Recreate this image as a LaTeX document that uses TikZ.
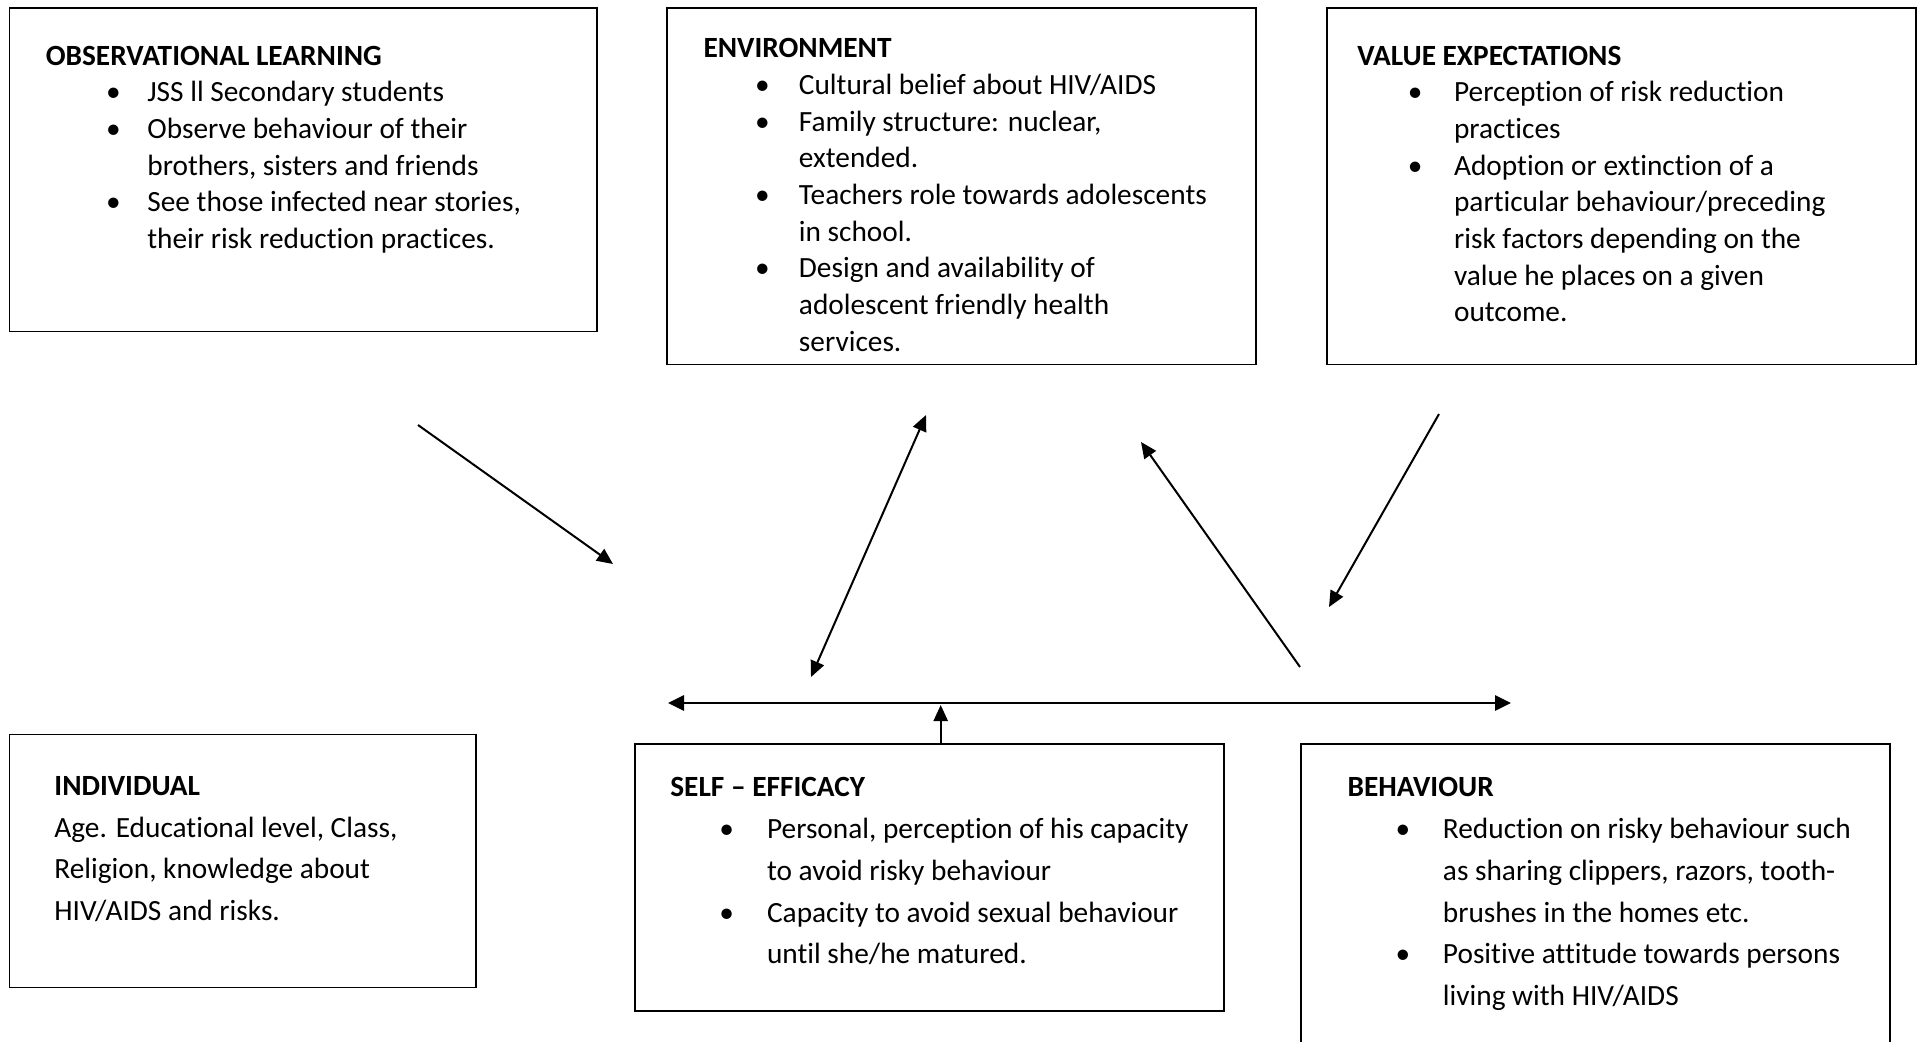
\documentclass[tikz,border=0pt]{standalone}
\usepackage{fontspec}
\setmainfont[Ligatures={NoCommon}]{Carlito}
\usetikzlibrary{arrows.meta,positioning}

\newcommand{\bul}{\textbullet}

\begin{document}
\begin{tikzpicture}
[x=0.375pt,y=-0.375pt,
block/.style ={rectangle, draw, line width=0.6pt, inner sep=0pt,
anchor=north west},
txt/.style ={inner sep=0pt, anchor=north west,
font=\fontsize{11}{13.76}\selectfont},
txtlow/.style ={txt, font=\fontsize{11}{15.7}\selectfont},
line/.style ={draw, line width=0.75pt,
-{Triangle[length=6pt,width=5.3pt]}},
bus/.style ={draw, line width=1.1pt,
{Triangle[length=6pt,width=5.6pt]}-{Triangle[length=6pt,width=5.6pt]}}]

\useasboundingbox (0,0) rectangle (1920,1042);

% top row of boxes
\node [block, minimum width=220.3pt, minimum height=121.2pt] (obs) at (8.6,7.3) {};
\node [block, minimum width=220.9pt, minimum height=133.7pt] (env) at (666.1,7.3) {};
\node [block, minimum width=220.9pt, minimum height=133.7pt] (val) at (1326.1,7.3) {};
% bottom row of boxes
\node [block, minimum width=175pt, minimum height=95pt] (ind) at (8.6,733.5) {};
\node [block, minimum width=220.9pt, minimum height=100.1pt] (self) at (634.3,743.3) {};
\node [block, minimum width=220.9pt, minimum height=122pt] (beh) at (1300.4,743.3) {};

% texts
\node [txt] (obstxt) at (45.3,38.8) {\begin{tabular}{@{\hspace{22.6pt}}l@{\hspace{10pt}}l@{}}
\multicolumn{2}{@{}l@{}}{\textbf{OBSERVATIONAL LEARNING}}\\
\bul & JSS ll Secondary students\\
\bul & Observe behaviour of their\\
 & brothers, sisters and friends\\
\bul & See those infected near stories,\\
 & their risk reduction practices.
\end{tabular}};
\node [txt] (envtxt) at (703,31.5) {\begin{tabular}{@{\hspace{19.3pt}}l@{\hspace{11pt}}l@{}}
\multicolumn{2}{@{}l@{}}{\textbf{ENVIRONMENT}}\\
\bul & Cultural belief about HIV/AIDS\\
\bul & Family structure: nuclear,\\
 & extended.\\
\bul & Teachers role towards adolescents\\
 & in school.\\
\bul & Design and availability of\\
 & adolescent friendly health\\
 & services.
\end{tabular}};
\node [txt] (valtxt) at (1356.8,38.8) {\begin{tabular}{@{\hspace{18.9pt}}l@{\hspace{11.9pt}}l@{}}
\multicolumn{2}{@{}l@{}}{\textbf{VALUE EXPECTATIONS}}\\
\bul & Perception of risk reduction\\
 & practices\\
\bul & Adoption or extinction of a\\
 & particular behaviour/preceding\\
 & risk factors depending on the\\
 & value he places on a given\\
 & outcome.
\end{tabular}};
\node [txtlow] (indtxt) at (53.9,765.4) {\begin{tabular}{@{}l@{}}
\textbf{INDIVIDUAL}\\
Age. Educational level, Class,\\
Religion, knowledge about\\
HIV/AIDS and risks.
\end{tabular}};
\node [txtlow] (selftxt) at (669.8,766.6) {\begin{tabular}{@{\hspace{18.4pt}}l@{\hspace{12.4pt}}l@{}}
\multicolumn{2}{@{}l@{}}{\textbf{SELF – EFFICACY}}\\
\bul & Personal, perception of his capacity\\
 & to avoid risky behaviour\\
\bul & Capacity to avoid sexual behaviour\\
 & until she/he matured.
\end{tabular}};
\node [txtlow] (behtxt) at (1347,766.6) {\begin{tabular}{@{\hspace{18pt}}l@{\hspace{12.3pt}}l@{}}
\multicolumn{2}{@{}l@{}}{\textbf{BEHAVIOUR}}\\
\bul & Reduction on risky behaviour such\\
 & as sharing clippers, razors, tooth-\\
 & brushes in the homes etc.\\
\bul & Positive attitude towards persons\\
 & living with HIV/AIDS
\end{tabular}};

% free arrow ends
\coordinate (obsout) at (418,425);
\coordinate (obsin) at (613,564);
\coordinate (envdn) at (811,677);
\coordinate (envup) at (926,415);
\coordinate (behout) at (1300,667);
\coordinate (envin) at (1141,442);
\coordinate (valout) at (1439,414);
\coordinate (valin) at (1329,607);
\coordinate (busL) at (668,703);
\coordinate (busR) at (1511,703);
\coordinate (selfup) at (940.7,705);

\begin{scope}[every path/.style=line]
\path (obsout) -- (obsin);
\path [{Triangle[length=6pt,width=5.3pt]}-{Triangle[length=6pt,width=5.3pt]}] (envdn) -- (envup);
\path (behout) -- (envin);
\path (valout) -- (valin);
\path (self.north -| selfup) -- (selfup);
\end{scope}
\path [bus] (busL) -- (busR);
\end{tikzpicture}
\end{document}
